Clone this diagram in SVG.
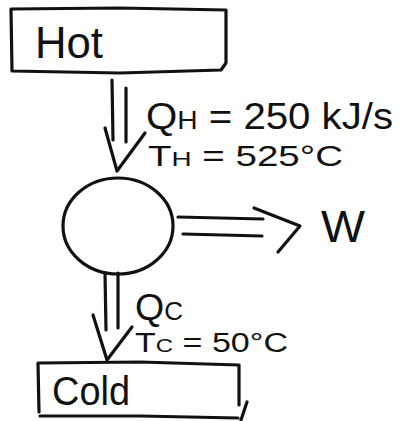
<svg xmlns="http://www.w3.org/2000/svg" width="402" height="421" viewBox="0 0 402 421">
<style>
.ln{fill:none;stroke:#111;stroke-width:3.2;stroke-linecap:round;stroke-linejoin:round}
.t{font-family:"Liberation Sans","DejaVu Sans",sans-serif;fill:#111}
</style>
<rect width="402" height="421" fill="#fff"/>
<g id="hot">
<path class="ln" d="M11,9 L120,8 L226,10 L226,63 L221,70 L120,73 L12,71 Z"/>
<text class="t" x="35" y="58" font-size="44" textLength="68" lengthAdjust="spacingAndGlyphs">Hot</text>
</g>
<g id="engine">
<ellipse class="ln" cx="118" cy="226" rx="55" ry="48"/>
</g>
<g id="cold">
<path class="ln" d="M39,363 L140,362 L239,365 M38,363 L39,412 M239,365 L239,405 M40,416 L140,416 L238,418 M247,402 L241,420"/>
<text class="t" x="52" y="405" font-size="40" textLength="78" lengthAdjust="spacingAndGlyphs">Cold</text>
</g>
<g id="work">
<text class="t" x="321" y="242" font-size="44" textLength="44" lengthAdjust="spacingAndGlyphs">W</text>
</g>
<g id="connectors">
<path class="ln" d="M112,80 L113,140 M126,88 L126,142 M105,128 L117,171 L145,133"/>
<path class="ln" d="M178,217 L263,219 M183,234 L262,236 M254,208 L300,226 L278,252"/>
<path class="ln" d="M105,273 L106,330 M118,273 L118,328 M93,315 L107,360 L132,327"/>
</g>
<g id="labels">
<text class="t" x="146" y="129" font-size="37" textLength="247" lengthAdjust="spacingAndGlyphs">Q<tspan font-size="26">H</tspan> = 250 kJ/s</text>
<text class="t" x="148" y="166" font-size="29" textLength="195" lengthAdjust="spacingAndGlyphs">T<tspan font-size="21">H</tspan> = 525°C</text>
<text class="t" x="135" y="320" font-size="36" textLength="48" lengthAdjust="spacingAndGlyphs">Q<tspan font-size="25">C</tspan></text>
<text class="t" x="135" y="352" font-size="27" textLength="153" lengthAdjust="spacingAndGlyphs">T<tspan font-size="19">C</tspan> = 50°C</text>
</g>
</svg>
